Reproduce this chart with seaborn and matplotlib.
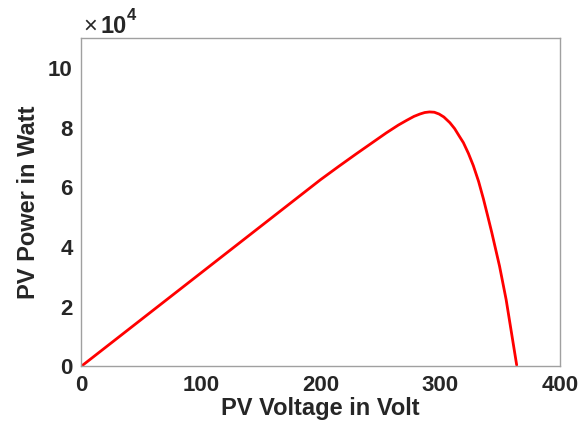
import numpy as np
import matplotlib
matplotlib.use("Agg")
import matplotlib.pyplot as plt
import pandas as pd
import seaborn as sns
from matplotlib.ticker import FuncFormatter

# PV curve (power in units of 1e4 W)
voltage = [0, 100, 200, 215, 230, 245, 255, 265, 272, 278, 283, 287, 291, 295, 299,
           303, 308, 312, 316, 319.3, 323.5, 327.6, 332, 336, 339.5, 343, 349.5,
           355, 359.5, 363.8]
power_e4 = [0, 3.13, 6.26, 6.70, 7.13, 7.55, 7.83, 8.09, 8.25, 8.38, 8.46, 8.51, 8.53, 8.52, 8.46,
            8.36, 8.17, 7.97, 7.71, 7.50, 7.14, 6.73, 6.20, 5.62, 5.06, 4.49, 3.36,
            2.24, 1.12, 0.05]
x_ticks = [0, 100, 200, 300, 400]
y_ticks_e4 = [0, 2, 4, 6, 8, 10]

df = pd.DataFrame({"V": voltage, "P": np.array(power_e4) * 1e4})

sns.set_style("white")
plt.rcParams['font.family'] = ['Liberation Sans', 'DejaVu Sans']

fig = plt.figure(figsize=(5.83, 4.30), dpi=100)
ax = fig.add_axes([0.139, 0.1477, 0.8216, 0.7634])

sns.lineplot(data=df, x="V", y="P", color="#ff0000", linewidth=2.0, ax=ax, sort=False)

ax.set_xlim(0, 400)
ax.set_ylim(0, 11e4)
ax.set_xticks(x_ticks)
ax.set_yticks([t * 1e4 for t in y_ticks_e4])
ax.yaxis.set_major_formatter(FuncFormatter(lambda v, pos: f"{v / 1e4:g}"))

for s in ax.spines.values():
    s.set_color("#a0a0a0")
    s.set_linewidth(1.0)
ax.tick_params(direction="in", length=4, width=0.8, color="#555555",
               labelsize=16, pad=6)
for lab in ax.get_xticklabels() + ax.get_yticklabels():
    lab.set_fontweight("bold")
    lab.set_color("#262626")

ax.set_xlabel("PV Voltage in Volt", fontsize=17, fontweight="bold", color="#262626", labelpad=1)
ax.set_ylabel("PV Power in Watt", fontsize=17, fontweight="bold", color="#262626", labelpad=6)

# exponent marker, MATLAB style
fig.text(83 / 583, 1 - 33 / 430, "\u00d7", fontsize=17, color="#262626", va="baseline")
fig.text(100 / 583, 1 - 33 / 430, "10", fontsize=17, fontweight="bold", color="#262626", va="baseline")
fig.text(127 / 583, 1 - 20 / 430, "4", fontsize=12, fontweight="bold", color="#262626", va="baseline")

fig.savefig("out.png", dpi=100)
